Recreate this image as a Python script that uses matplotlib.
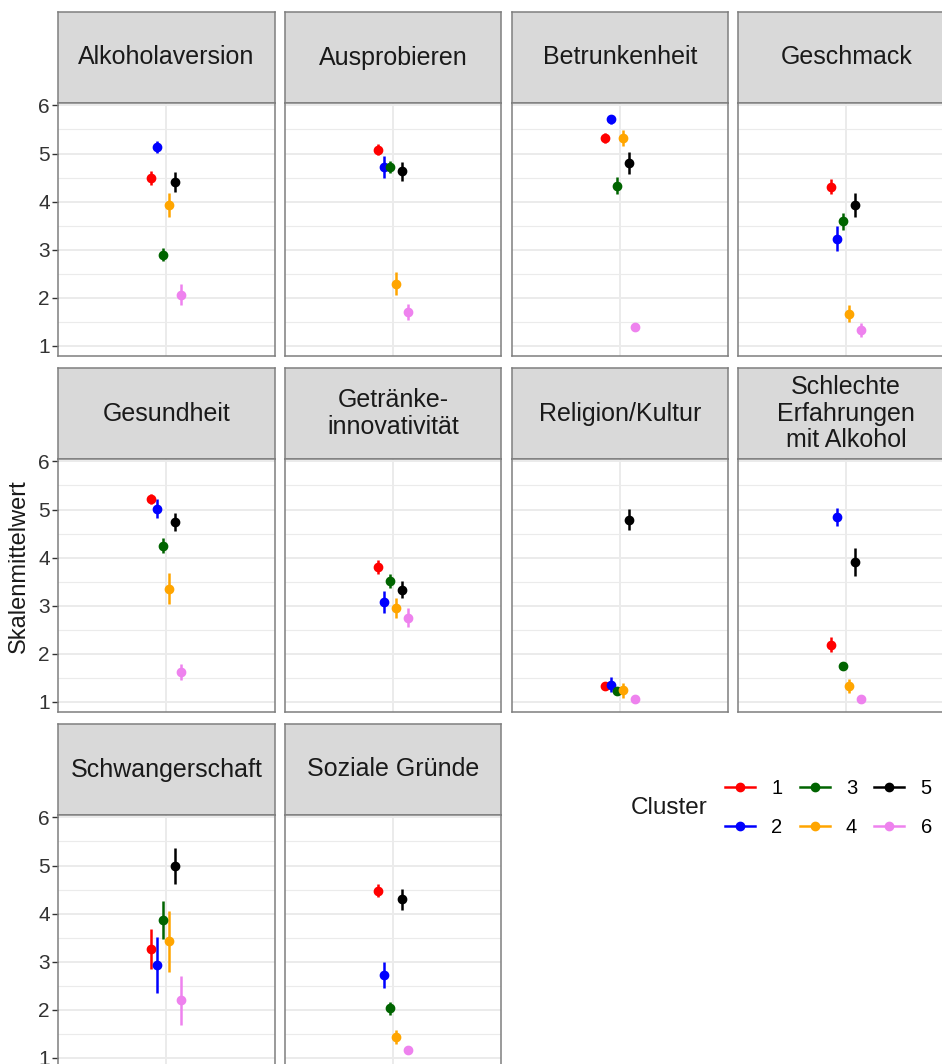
import numpy as np
import matplotlib
matplotlib.use('Agg')
import matplotlib.pyplot as plt
from matplotlib.lines import Line2D

plt.rcParams['font.family'] = ['Liberation Sans', 'DejaVu Sans']

# facets in display order
facets = ['Alkoholaversion', 'Ausprobieren', 'Betrunkenheit', 'Geschmack',
          'Gesundheit', 'Getränke-\ninnovativität', 'Religion/Kultur',
          'Schlechte\nErfahrungen\nmit Alkohol',
          'Schwangerschaft', 'Soziale Gründe']

clusters = ['1', '2', '3', '4', '5', '6']
colors = ['red', 'blue', 'darkgreen', 'orange', 'black', 'violet']

# mean scale value per facet, one entry per cluster 1..6
means = [
    [4.49, 5.13, 2.90, 3.92, 4.40, 2.06],
    [5.08, 4.72, 4.72, 2.29, 4.63, 1.71],
    [5.32, 5.71, 4.33, 5.32, 4.81, 1.40],
    [4.31, 3.23, 3.59, 1.67, 3.93, 1.33],
    [5.22, 5.02, 4.25, 3.35, 4.74, 1.62],
    [3.80, 3.07, 3.51, 2.95, 3.33, 2.75],
    [1.34, 1.36, 1.22, 1.24, 4.79, 1.05],
    [2.19, 4.85, 1.75, 1.33, 3.91, 1.07],
    [3.26, 2.93, 3.87, 3.42, 4.99, 2.20],
    [4.48, 2.72, 2.03, 1.44, 4.30, 1.16],
]

# half-width of the error bars
errors = [
    [0.14, 0.12, 0.13, 0.25, 0.21, 0.22],
    [0.12, 0.22, 0.12, 0.24, 0.20, 0.17],
    [0.11, 0.09, 0.18, 0.16, 0.23, 0.08],
    [0.15, 0.26, 0.17, 0.17, 0.24, 0.14],
    [0.10, 0.20, 0.16, 0.32, 0.19, 0.17],
    [0.15, 0.23, 0.14, 0.20, 0.18, 0.20],
    [0.07, 0.15, 0.07, 0.15, 0.22, 0.05],
    [0.15, 0.19, 0.08, 0.15, 0.29, 0.05],
    [0.42, 0.58, 0.40, 0.64, 0.38, 0.51],
    [0.13, 0.27, 0.13, 0.15, 0.22, 0.06],
]

W, H = 942, 1064
fig = plt.figure(figsize=(W / 100, H / 100), dpi=100)


def px_axes(x0, y0, w, h):
    return fig.add_axes([x0 / W, 1 - (y0 + h) / H, w / W, h / H])


border = '#7F7F7F'
col_x = [58, 285, 511.5, 738]
panel_w = 216.5
strip_h = 91
panel_h = 253
row_y = [12, 368, 724]

dodge = 0.2
for k, name in enumerate(facets):
    r, c = divmod(k, 4)
    x0 = col_x[c]
    y0 = row_y[r]

    # strip
    sax = px_axes(x0, y0, panel_w, strip_h)
    sax.set_facecolor('#D9D9D9')
    sax.set_xticks([])
    sax.set_yticks([])
    for s in sax.spines.values():
        s.set_color(border)
        s.set_linewidth(1.1)
    sax.text(0.5, 0.5, name, ha='center', va='center', fontsize=18,
             color='#1A1A1A', transform=sax.transAxes, linespacing=1.12)

    # panel
    ax = px_axes(x0, y0 + strip_h, panel_w, panel_h)
    ax.set_xlim(0.4, 1.6)
    ax.set_ylim(0.79, 6.05)
    ax.set_yticks([1, 2, 3, 4, 5, 6])
    ax.set_yticks([1.5, 2.5, 3.5, 4.5, 5.5], minor=True)
    ax.set_xticks([1])
    ax.grid(True, which='major', color='#EBEBEB', linewidth=1.4)
    ax.grid(True, which='minor', axis='y', color='#EBEBEB', linewidth=0.8)
    ax.set_axisbelow(True)
    ax.tick_params(axis='x', length=0, labelbottom=False)
    ax.tick_params(axis='y', which='minor', length=0)
    if c == 0:
        ax.tick_params(axis='y', which='major', length=4, width=1,
                       color='#333333', labelsize=15, labelcolor='#333333', pad=2)
    else:
        ax.tick_params(axis='y', which='major', length=0, labelleft=False)
    for s in ax.spines.values():
        s.set_color(border)
        s.set_linewidth(1.1)

    for i in range(len(clusters)):
        xpos = 1 + (i - 2.5) * dodge / len(clusters)
        ax.errorbar(xpos, means[k][i], yerr=errors[k][i], fmt='o',
                    color=colors[i], markersize=6, elinewidth=1.8,
                    capsize=0, zorder=3)

fig.text(19 / W, 1 - 566 / H, 'Skalenmittelwert', rotation=90,
         ha='center', va='center', fontsize=17, color='#1A1A1A')

# legend
handles = [Line2D([0], [0], color=colors[i], marker='o', markersize=6,
                  linewidth=1.8) for i in range(len(clusters))]
fig.text(631 / W, 1 - 808 / H, 'Cluster', ha='left', va='center',
         fontsize=17.5, color='#1A1A1A')
fig.legend(handles, clusters, ncol=3, loc='center left',
           bbox_to_anchor=(725 / W, 1 - 808 / H), frameon=False,
           fontsize=14.5, handlelength=1.5, handletextpad=0.8,
           columnspacing=0.85, labelspacing=0.95, borderpad=0,
           borderaxespad=0)

fig.savefig('out.png', dpi=100)
